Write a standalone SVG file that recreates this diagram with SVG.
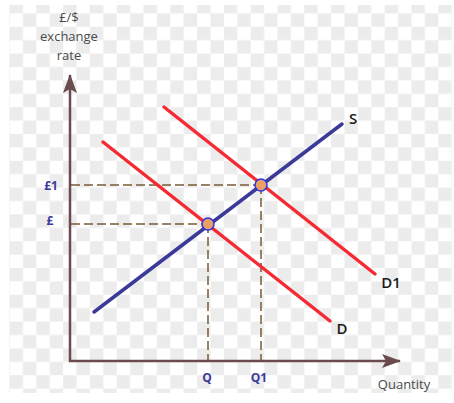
<svg xmlns="http://www.w3.org/2000/svg" width="454" height="403" viewBox="0 0 454 403">
<defs>
<pattern id="chk" x="9.5" y="0" width="26.8" height="26.8" patternUnits="userSpaceOnUse">
<rect x="0" y="0" width="13.4" height="13.4" fill="#ececec"/>
<rect x="13.4" y="13.4" width="13.4" height="13.4" fill="#ececec"/>
</pattern>
<marker id="ah" markerWidth="20" markerHeight="14" refX="18" refY="7" orient="auto" markerUnits="userSpaceOnUse">
<path d="M0,0 L19,7 L0,14 L4,7 Z" fill="#6b4b4e"/>
</marker>
</defs>
<style>
.axis{stroke:#6b4b4e;stroke-width:2.5;fill:none}
.dash{stroke:#7a5a34;stroke-width:1.5;stroke-dasharray:9,4;fill:none}
.sup{stroke:#3b3a98;stroke-width:3.5;stroke-linecap:round;fill:none}
.dem{stroke:#f52a33;stroke-width:3.5;stroke-linecap:round;fill:none}
.pt{fill:#e8a066;stroke:#2f33e0;stroke-width:1.5}
.lab{font-family:"Open Sans","Liberation Sans",sans-serif;font-size:15px;font-weight:600;fill:#1a1a1a}
.blue{font-family:"Open Sans","Liberation Sans",sans-serif;font-size:12px;font-weight:bold;fill:#3a3a9e}
.ax{font-family:"Open Sans","Liberation Sans",sans-serif;font-size:13px;fill:#4a4a4a}
</style>
<rect x="0" y="0" width="454" height="403" fill="#ffffff"/>
<rect x="9" y="5" width="443" height="388" fill="url(#chk)"/>
<g id="connectors">
<line class="dash" x1="71" y1="185" x2="261" y2="185"/>
<line class="dash" x1="71" y1="224" x2="208" y2="224"/>
<line class="dash" x1="208" y1="224" x2="208" y2="360"/>
<line class="dash" x1="261" y1="185" x2="261" y2="360"/>
<line class="axis" x1="70" y1="362" x2="70" y2="75" marker-end="url(#ah)"/>
<line class="axis" x1="69" y1="361" x2="400" y2="361" marker-end="url(#ah)"/>
<line id="S" class="sup" x1="94" y1="312" x2="342" y2="124"/>
<line id="D" class="dem" x1="103" y1="142" x2="330" y2="321"/>
<line id="D1" class="dem" x1="164" y1="107" x2="375" y2="274"/>
</g>
<g id="eq1"><circle class="pt" cx="208" cy="224" r="6"/></g>
<g id="eq2"><circle class="pt" cx="261" cy="185" r="6"/></g>
<g id="ylabel">
<text class="ax" x="69" y="22" text-anchor="middle">£/$</text>
<text class="ax" x="69" y="41" text-anchor="middle">exchange</text>
<text class="ax" x="69" y="60" text-anchor="middle">rate</text>
</g>
<g id="xlabel"><text class="ax" x="404" y="389" text-anchor="middle">Quantity</text></g>
<g id="labels">
<text class="blue" x="51" y="190" text-anchor="middle">£1</text>
<text class="blue" x="50" y="225" text-anchor="middle">£</text>
<text class="blue" x="207" y="382" text-anchor="middle">Q</text>
<text class="blue" x="259" y="382" text-anchor="middle">Q1</text>
<text class="lab" x="353" y="124" text-anchor="middle">S</text>
<text class="lab" x="391" y="288" text-anchor="middle">D1</text>
<text class="lab" x="342" y="334" text-anchor="middle">D</text>
</g>
</svg>
